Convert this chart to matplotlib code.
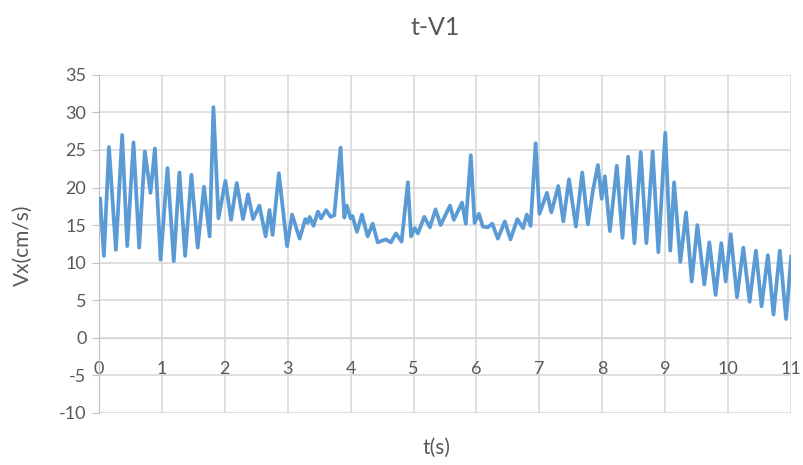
import matplotlib
matplotlib.use("Agg")
import matplotlib.pyplot as plt

# peaks and troughs
t = [0.02, 0.08, 0.16, 0.27, 0.37, 0.45, 0.55, 0.64, 0.73, 0.82, 0.89, 0.98,
     1.09, 1.19, 1.28, 1.37, 1.47, 1.57, 1.67, 1.76, 1.82, 1.90,
     2.01, 2.10, 2.19, 2.29, 2.37, 2.45, 2.55, 2.65, 2.71, 2.76, 2.86, 2.99,
     3.07, 3.19, 3.28, 3.32, 3.35, 3.41, 3.48, 3.53, 3.61, 3.68, 3.74, 3.84, 3.90, 3.94,
     4.00, 4.03, 4.10, 4.18, 4.27, 4.35, 4.43, 4.56, 4.64, 4.72, 4.81, 4.91, 4.96,
     5.02, 5.07, 5.17, 5.26, 5.35, 5.43, 5.58, 5.64, 5.77, 5.83, 5.91, 5.97,
     6.04, 6.10, 6.18, 6.25, 6.34, 6.45, 6.54, 6.65, 6.74, 6.80, 6.86, 6.94,
     7.00, 7.12, 7.19, 7.30, 7.38, 7.47, 7.58, 7.68, 7.77, 7.85, 7.93, 7.99,
     8.04, 8.12, 8.23, 8.32, 8.41, 8.51, 8.61, 8.70, 8.80, 8.89,
     9.00, 9.08, 9.14, 9.24, 9.33, 9.42, 9.51, 9.62, 9.70, 9.80, 9.89, 9.96,
     10.04, 10.14, 10.24, 10.34, 10.44, 10.53, 10.63, 10.72, 10.82, 10.92, 11.00]
vx = [18.5, 10.9, 25.4, 11.7, 27.0, 12.2, 26.0, 12.0, 24.8, 19.3, 25.2, 10.4,
      22.6, 10.2, 22.0, 10.9, 21.7, 12.0, 20.1, 13.5, 30.7, 15.9,
      20.9, 15.7, 20.6, 15.8, 19.1, 15.8, 17.6, 13.5, 17.0, 13.7, 21.9, 12.2,
      16.4, 13.2, 15.8, 15.3, 16.1, 14.9, 16.8, 15.9, 17.0, 16.1, 16.3, 25.3, 16.0, 17.6,
      15.9, 16.2, 14.1, 16.4, 13.5, 15.2, 12.7, 13.1, 12.7, 13.9, 12.8, 20.7, 13.5,
      14.6, 13.9, 16.1, 14.7, 17.1, 15.0, 17.6, 15.7, 18.0, 15.2, 24.3, 15.3,
      16.5, 14.8, 14.7, 15.2, 13.2, 15.5, 13.1, 15.8, 14.6, 16.4, 14.9, 25.9,
      16.5, 19.3, 16.7, 20.2, 15.5, 21.1, 14.8, 22.0, 15.1, 19.6, 23.0, 18.5,
      21.5, 14.2, 22.9, 13.3, 24.1, 12.6, 24.7, 12.6, 24.8, 11.4,
      27.3, 11.6, 20.7, 10.1, 16.7, 7.5, 15.0, 7.1, 12.7, 5.7, 12.6, 7.5,
      13.8, 5.4, 12.0, 4.8, 11.6, 4.2, 11.0, 3.1, 11.6, 2.5, 10.8]

xticks = list(range(0, 12))
yticks = list(range(-10, 40, 5))

plt.rcParams['font.family'] = ['Lato', 'DejaVu Sans']
plt.rcParams['axes.unicode_minus'] = False

fig = plt.figure(figsize=(8.04, 4.65), dpi=100)
ax = fig.add_axes([0.123, 0.112, 0.861, 0.727])

grid_c = '#d9d9d9'
text_c = '#595959'

ax.plot(t, vx, color='#5b9bd5', lw=2.7, solid_joinstyle='round', zorder=3)

ax.set_xlim(0, 11)
ax.set_ylim(-10, 35)
ax.set_xticks(xticks)
ax.set_yticks(yticks)
ax.grid(True, color=grid_c, lw=1.2)

for s in ['top', 'right']:
    ax.spines[s].set_visible(False)
ax.spines['left'].set_color('#bfbfbf')
ax.spines['bottom'].set_position(('data', 0))
ax.spines['bottom'].set_color('#bfbfbf')
ax.spines['bottom'].set_zorder(1)

ax.tick_params(axis='y', colors='#bfbfbf', labelcolor=text_c, labelsize=13, length=5, pad=4)
ax.tick_params(axis='x', colors='#bfbfbf', labelcolor=text_c, labelsize=13, length=0, pad=17)

fig.text(0.541, 0.94, 't-V1', ha='center', va='center', fontsize=18, color=text_c)
fig.text(0.543, 0.036, 't(s)', ha='center', va='center', fontsize=15, color=text_c)
fig.text(0.028, 0.473, 'Vx(cm/s)', ha='center', va='center', rotation=90, fontsize=15, color=text_c)

fig.savefig('out.png', dpi=100)
